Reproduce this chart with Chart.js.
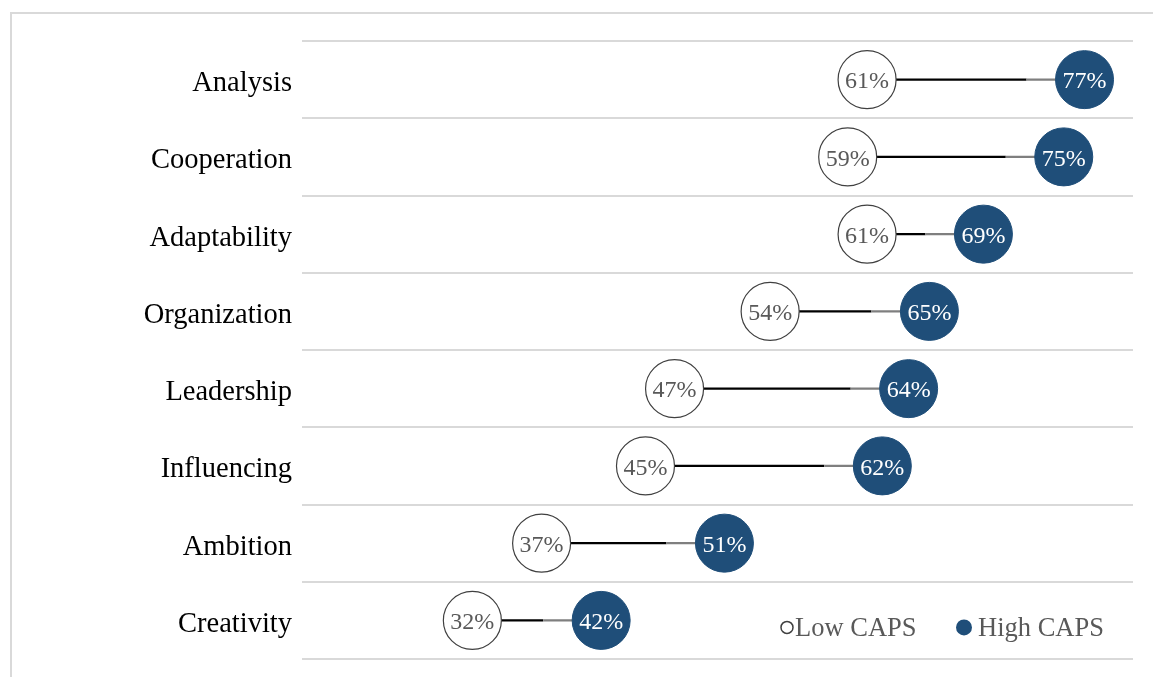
<!DOCTYPE html>
<html>
<head>
<meta charset="utf-8">
<script src="https://cdn.jsdelivr.net/npm/chart.js@4/dist/chart.umd.min.js"></script>
<style>
  html, body { margin: 0; padding: 0; background: #ffffff; }
  #wrap { position: relative; width: 1153px; height: 677px; }
  canvas { display: block; }
</style>
</head>
<body>
<div id="wrap"><canvas id="c" width="1153" height="677"></canvas></div>
<script>
const categories = ["Analysis", "Cooperation", "Adaptability", "Organization", "Leadership", "Influencing", "Ambition", "Creativity"];
const lowCaps  = [60.8, 59.4, 60.8, 53.8, 46.9, 44.8, 37.3, 32.3];
const highCaps = [76.5, 75.0, 69.2, 65.3, 63.8, 61.9, 50.5, 41.6];
const lowLabels  = ["61%", "59%", "61%", "54%", "47%", "45%", "37%", "32%"];
const highLabels = ["77%", "75%", "69%", "65%", "64%", "62%", "51%", "42%"];
const seriesNames = ["Low CAPS", "High CAPS"];

const NAVY = "#1F4E79";
const SERIF = "'Liberation Serif', 'Times New Roman', serif";

const framePlugin = {
  id: "frame",
  beforeDraw(chart) {
    const ctx = chart.ctx;
    ctx.save();
    ctx.strokeStyle = "#d9d9d9";
    ctx.lineWidth = 2;
    ctx.beginPath();
    ctx.moveTo(11, chart.height);
    ctx.lineTo(11, 13);
    ctx.lineTo(chart.width, 13);
    ctx.stroke();
    ctx.restore();
  }
};

const connectorPlugin = {
  id: "connectors",
  beforeDatasetsDraw(chart) {
    const ctx = chart.ctx;
    const xs = chart.scales.x, ys = chart.scales.y;
    ctx.save();
    ctx.lineWidth = 2.2;
    categories.forEach((c, i) => {
      const y = ys.getPixelForValue(i);
      const x1 = xs.getPixelForValue(lowCaps[i]);
      const x2 = xs.getPixelForValue(highCaps[i]);
      const mid = x2 - 58;
      ctx.strokeStyle = "#000000";
      ctx.beginPath(); ctx.moveTo(x1, y); ctx.lineTo(mid, y); ctx.stroke();
      ctx.strokeStyle = "#7f7f7f";
      ctx.beginPath(); ctx.moveTo(mid, y); ctx.lineTo(x2, y); ctx.stroke();
    });
    ctx.restore();
  }
};

const labelPlugin = {
  id: "pointLabels",
  afterDatasetsDraw(chart) {
    const ctx = chart.ctx;
    ctx.save();
    ctx.font = "24px " + SERIF;
    ctx.textAlign = "center";
    ctx.textBaseline = "middle";
    const sets = [[0, lowLabels, "#595959"], [1, highLabels, "#ffffff"]];
    sets.forEach(([di, labels, color]) => {
      const meta = chart.getDatasetMeta(di);
      ctx.fillStyle = color;
      meta.data.forEach((pt, i) => ctx.fillText(labels[i], pt.x, pt.y + 2.5));
    });
    ctx.restore();
  }
};

const legendPlugin = {
  id: "customLegend",
  afterDraw(chart) {
    const ctx = chart.ctx;
    const a = chart.chartArea;
    const y = chart.scales.y.getPixelForValue(categories.length - 1) + 7;
    ctx.save();
    ctx.font = "26.5px " + SERIF;
    ctx.textBaseline = "middle";
    ctx.textAlign = "left";
    // Low CAPS
    let mx = a.right - 346;
    ctx.beginPath(); ctx.arc(mx, y, 6, 0, Math.PI * 2);
    ctx.fillStyle = "#ffffff"; ctx.fill();
    ctx.strokeStyle = "#404040"; ctx.lineWidth = 1.5; ctx.stroke();
    ctx.fillStyle = "#595959";
    ctx.fillText(seriesNames[0], mx + 8, y + 2);
    // High CAPS
    mx = a.right - 169;
    ctx.beginPath(); ctx.arc(mx, y, 8, 0, Math.PI * 2);
    ctx.fillStyle = NAVY; ctx.fill();
    ctx.fillStyle = "#595959";
    ctx.fillText(seriesNames[1], mx + 14, y + 2);
    ctx.restore();
  }
};

new Chart(document.getElementById("c"), {
  type: "scatter",
  data: {
    labels: categories,
    datasets: [
      {
        label: seriesNames[0],
        data: lowCaps.map((v, i) => ({ x: v, y: categories[i] })),
        pointRadius: 29,
        pointHoverRadius: 29,
        backgroundColor: "#ffffff",
        borderColor: "#404040",
        borderWidth: 1.2
      },
      {
        label: seriesNames[1],
        data: highCaps.map((v, i) => ({ x: v, y: categories[i] })),
        pointRadius: 29,
        pointHoverRadius: 29,
        backgroundColor: NAVY,
        borderColor: NAVY,
        borderWidth: 1
      }
    ]
  },
  options: {
    responsive: false,
    animation: false,
    layout: { autoPadding: false, padding: { left: 0, right: 20, top: 41, bottom: 7 } },
    plugins: {
      legend: { display: false },
      tooltip: { enabled: false }
    },
    scales: {
      x: {
        type: "linear",
        min: 20,
        max: 80,
        display: false
      },
      y: {
        type: "category",
        labels: categories,
        offset: true,
        border: { display: false },
        grid: { offset: true, color: "#d9d9d9", lineWidth: 2, drawTicks: false },
        ticks: {
          color: "#000000",
          padding: 10,
          font: { family: SERIF, size: 28.5, lineHeight: 0.28 },
          callback(value) { return ["", this.getLabelForValue(value)]; }
        },
        afterFit(scale) { scale.width = 302; }
      }
    }
  },
  plugins: [framePlugin, connectorPlugin, labelPlugin, legendPlugin]
});
</script>
</body>
</html>
